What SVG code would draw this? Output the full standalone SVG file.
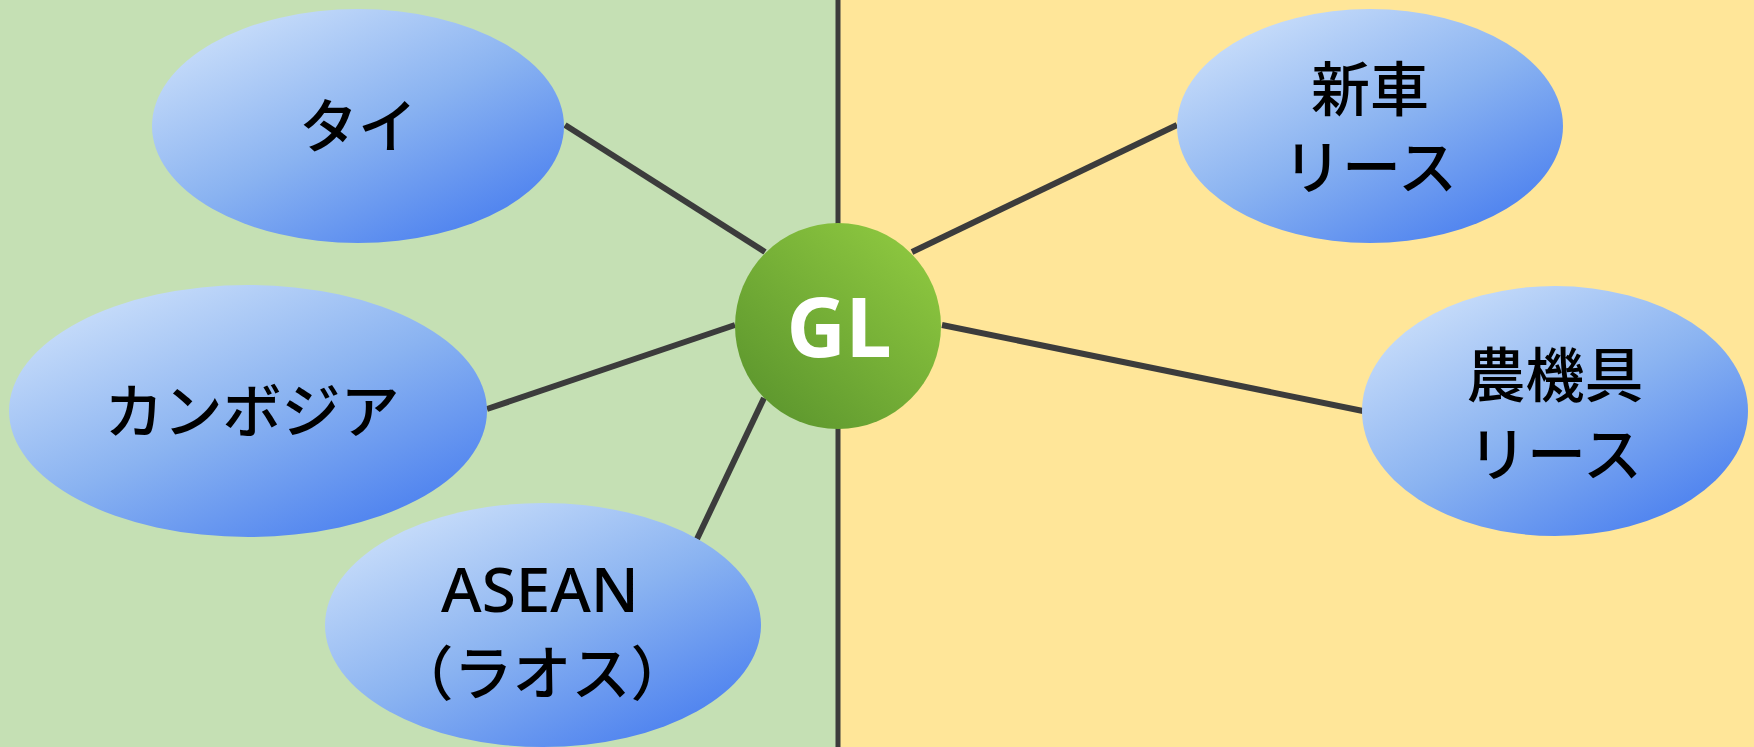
<svg xmlns="http://www.w3.org/2000/svg" width="1754" height="747" viewBox="0 0 1754 747">
  <defs>
    <linearGradient id="blue" x1="0.15" y1="0.08" x2="0.85" y2="0.95">
      <stop offset="0" stop-color="#c8ddfa"/>
      <stop offset="0.5" stop-color="#8ab3f1"/>
      <stop offset="1" stop-color="#4a7fef"/>
    </linearGradient>
    <linearGradient id="green" x1="0.85" y1="0.1" x2="0.15" y2="0.9">
      <stop offset="0" stop-color="#8cc63f"/>
      <stop offset="1" stop-color="#5e982e"/>
    </linearGradient>
    <style>
      .node { fill: url(#blue); }
      .lbl { font-family: "Noto Sans CJK JP", "Noto Sans", sans-serif; font-size: 59px; font-weight: 500; fill: #000; text-anchor: middle; }
      .lat { font-family: "Noto Sans", "Noto Sans CJK JP", sans-serif; font-size: 62px; font-weight: 500; fill: #000; text-anchor: middle; }
      .conn line { stroke: #3c3c3c; stroke-width: 6; }
    </style>
  </defs>

  <rect x="0" y="0" width="838" height="747" fill="#c5e0b4"/>
  <rect x="838" y="0" width="916" height="747" fill="#ffe699"/>
  <line x1="838" y1="0" x2="838" y2="747" stroke="#3c3c3c" stroke-width="5"/>

  <g id="connectors" class="conn">
    <line x1="565" y1="125" x2="765" y2="252"/>
    <line x1="487" y1="409" x2="735" y2="325"/>
    <line x1="697" y1="539" x2="764" y2="398"/>
    <line x1="912" y1="252" x2="1177" y2="125"/>
    <line x1="942" y1="325" x2="1363" y2="411"/>
  </g>

  <g id="node-thai">
    <ellipse class="node" cx="358" cy="126" rx="206" ry="117"/>
    <text class="lbl" x="358" y="148">タイ</text>
  </g>

  <g id="node-cambodia">
    <ellipse class="node" cx="248" cy="411" rx="239" ry="126"/>
    <text class="lbl" x="252" y="433">カンボジア</text>
  </g>

  <g id="node-asean">
    <ellipse class="node" cx="543" cy="625" rx="218" ry="122"/>
    <text class="lat" x="540" y="612">ASEAN</text>
    <text class="lbl" x="542" y="695">（ラオス）</text>
  </g>

  <g id="node-newcar">
    <ellipse class="node" cx="1370" cy="126" rx="193" ry="117"/>
    <text class="lbl" x="1370" y="111">新車</text>
    <text class="lbl" x="1370" y="189">リース</text>
  </g>

  <g id="node-agri">
    <ellipse class="node" cx="1555" cy="411" rx="193" ry="125"/>
    <text class="lbl" x="1555" y="397">農機具</text>
    <text class="lbl" x="1555" y="476">リース</text>
  </g>

  <g id="node-gl">
    <circle cx="838" cy="326" r="103" fill="url(#green)"/>
    <text x="839" y="357" font-family="'Noto Sans', 'Open Sans', sans-serif" font-weight="bold" font-size="82" fill="#ffffff" text-anchor="middle">GL</text>
  </g>
</svg>
